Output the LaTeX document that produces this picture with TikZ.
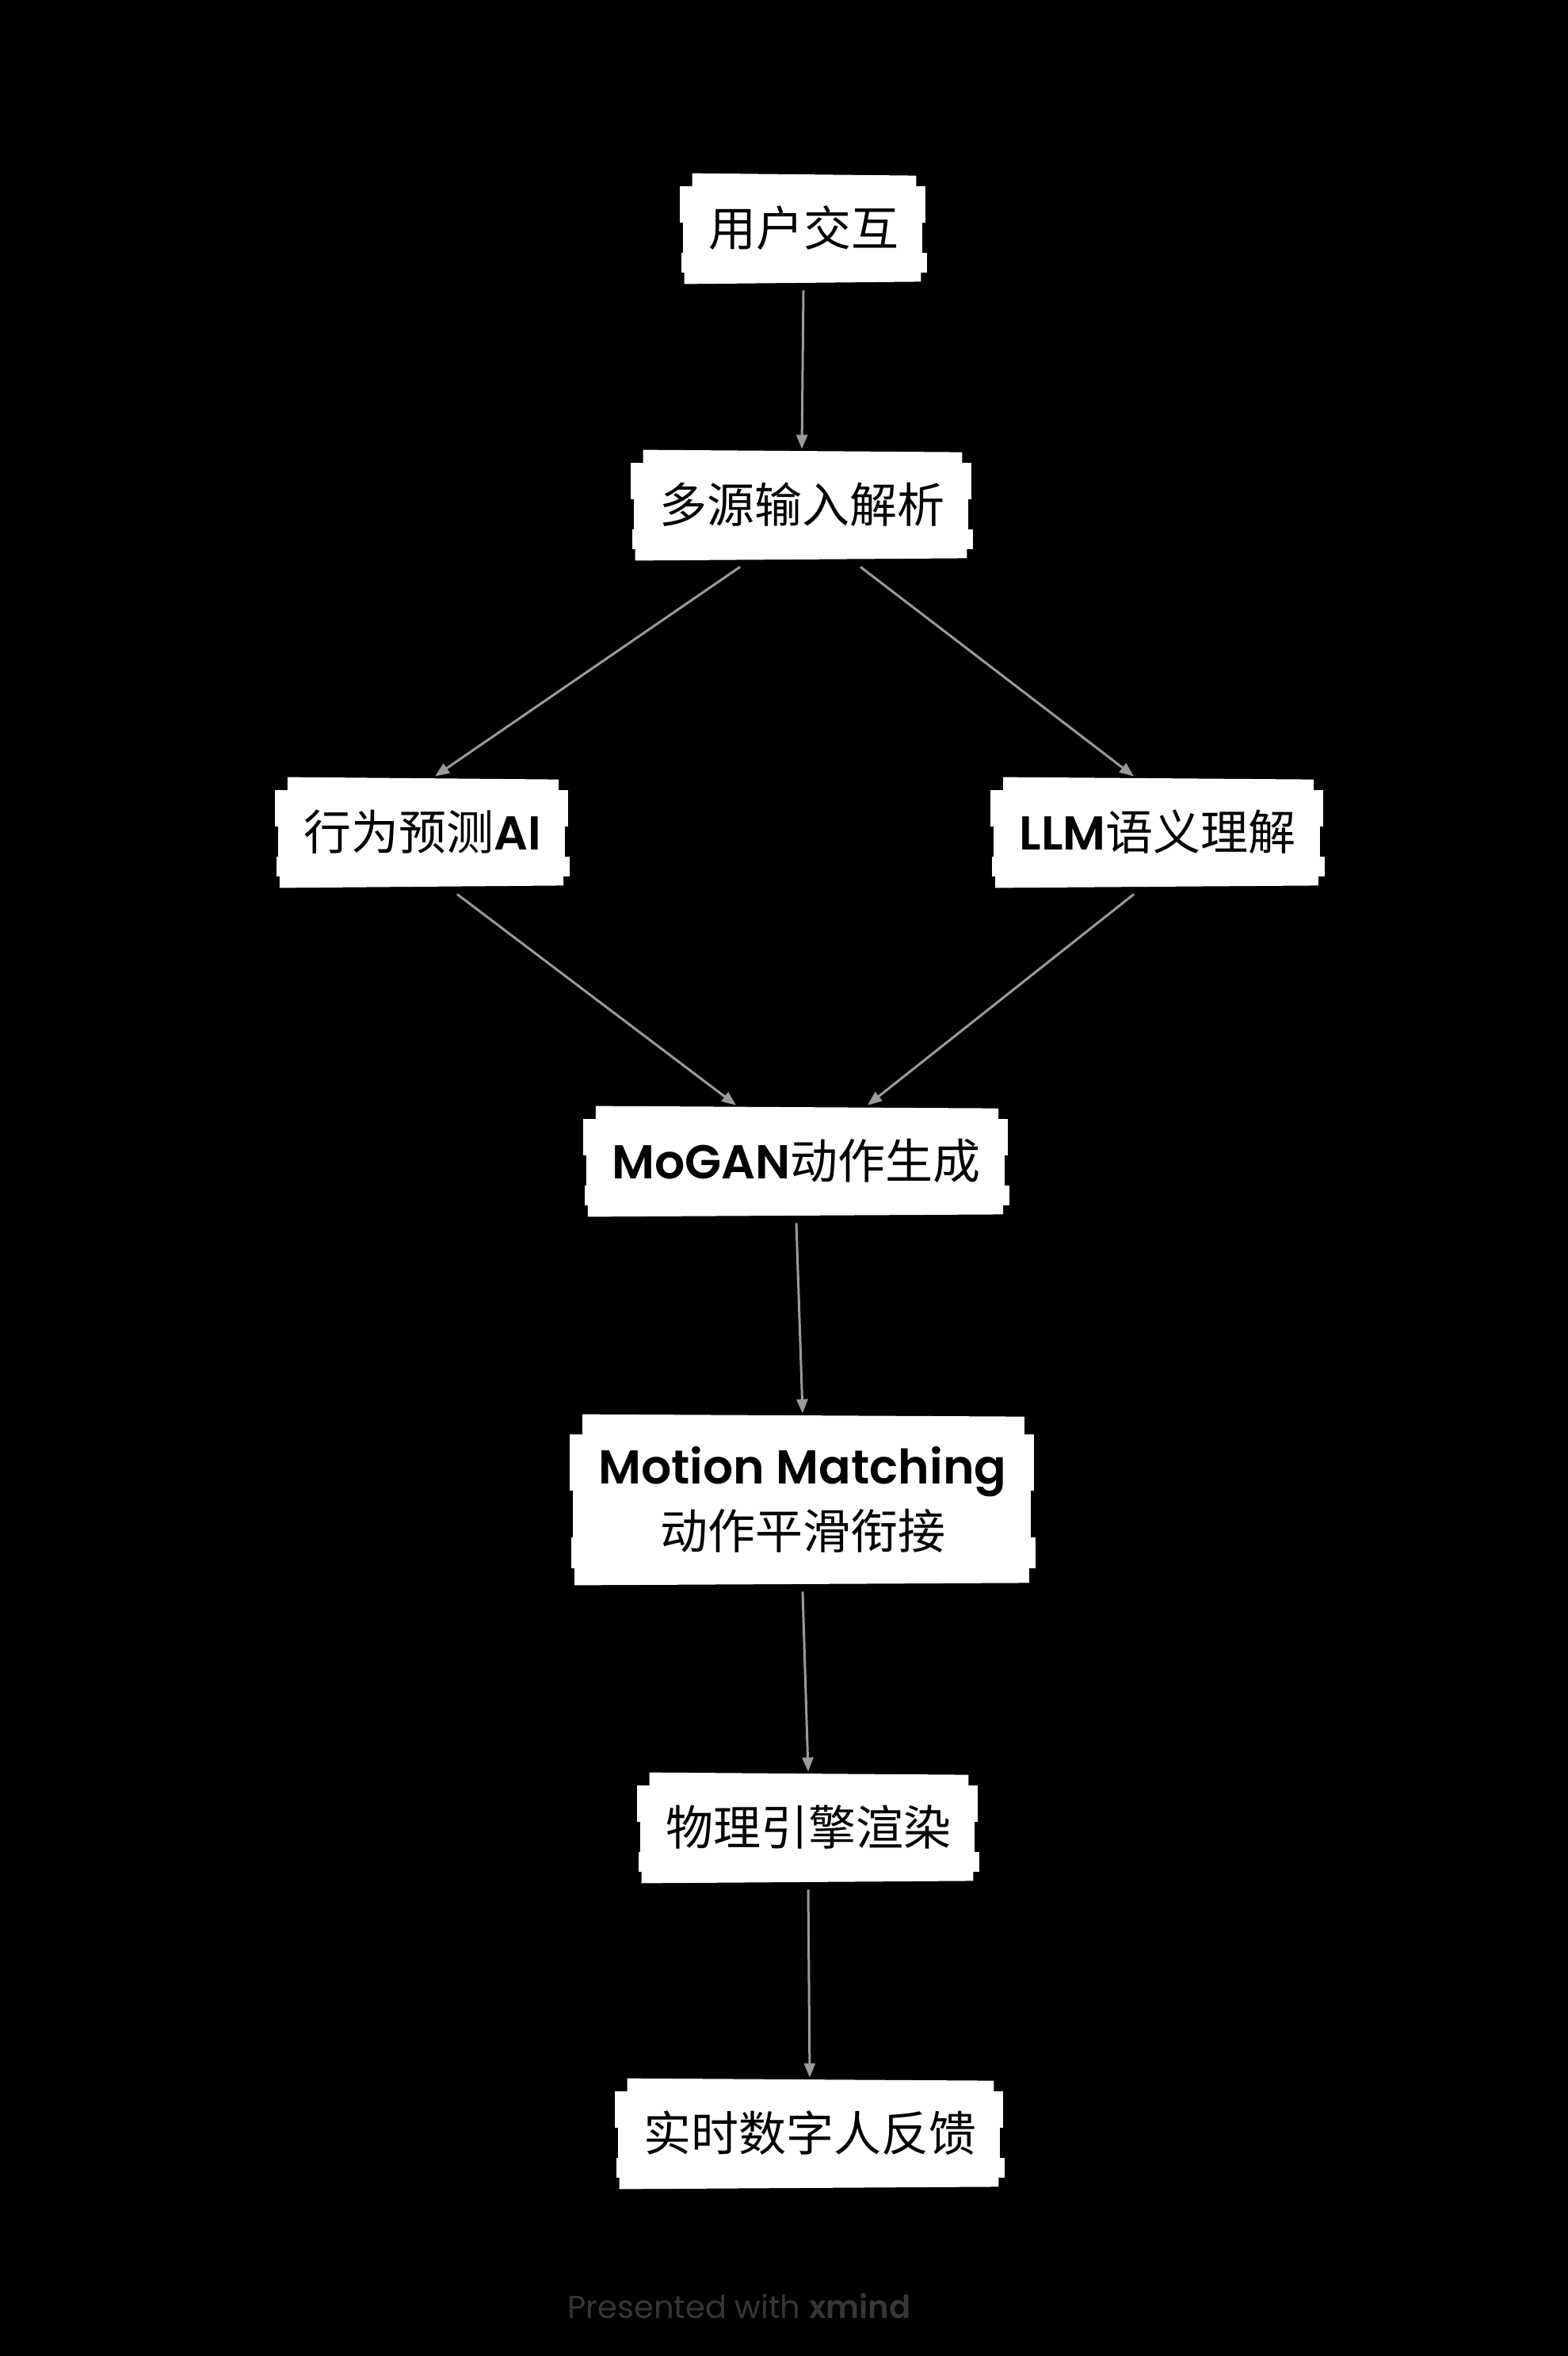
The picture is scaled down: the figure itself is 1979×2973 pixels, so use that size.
\documentclass[tikz,border=0pt]{standalone}
\usepackage{fontspec}
\setmainfont{Noto Sans CJK SC}
\newfontfamily\lat{Poppins}[BoldFont={Poppins SemiBold}]
\usetikzlibrary{arrows.meta, calc, positioning}
\pgfdeclarelayer{fondo}
\pgfdeclarelayer{cinta}
\pgfsetlayers{fondo,cinta,main}
\definecolor{gris}{HTML}{9A9A9A}
\definecolor{piegris}{HTML}{363636}
\tikzstyle{tarjeta} = [text=black, inner xsep=18pt, inner ysep=0pt, minimum height=70pt, align=center, font=\fontsize{30}{41}\selectfont]
\tikzstyle{flecha} = [draw=gris, line width=1.5pt, -{Triangle[length=9pt,width=7pt]}]
\tikzstyle{pie} = [text=piegris, font=\fontsize{20}{24}\selectfont\lat]
% tiras blancas como cinta pegada
\newcommand{\cinta}[1]{%
	\begin{pgfonlayer}{cinta}
		\fill[white] ($(#1.north west)+(8pt,-0.5pt)$) -- ($(#1.north east)+(-7pt,-2pt)$) -- ($(#1.north east)!0.22!(#1.south east)+(-7pt,0)$) -- ($(#1.north west)!0.22!(#1.south west)+(8pt,0)$) -- cycle;
		\fill[white] ($(#1.north west)!0.12!(#1.south west)$) rectangle ($(#1.north east)!0.45!(#1.south east)+(-1pt,0)$);
		\fill[white] ($(#1.north west)!0.43!(#1.south west)+(2pt,0)$) rectangle ($(#1.north east)!0.76!(#1.south east)+(-3pt,0)$);
		\fill[white] ($(#1.north west)!0.72!(#1.south west)+(1pt,0)$) rectangle ($(#1.north east)!0.9!(#1.south east)$);
		\fill[white] ($(#1.north west)!0.86!(#1.south west)+(3pt,0)$) -- ($(#1.north east)!0.86!(#1.south east)+(-4pt,0)$) -- ($(#1.south east)+(-4pt,1.5pt)$) -- ($(#1.south west)+(3pt,0)$) -- cycle;
	\end{pgfonlayer}}

\begin{document}
\begin{tikzpicture}[x=0.5pt, y=-0.5pt]
	\useasboundingbox (0,0) rectangle (1979,2973);
	\begin{pgfonlayer}{fondo}
		\fill[black] (0,0) rectangle (1979,2973);
	\end{pgfonlayer}

	\node[tarjeta] (usuario) at (1014,288) {用户交互};
	\node[tarjeta] (entrada) at (1012,637) {多源输入解析};
	\node[tarjeta] (prediccion) at (533,1050) {行为预测{\lat\bfseries AI}};
	\node[tarjeta] (llm) at (1461,1050) {{\lat\bfseries LLM}语义理解};
	\node[tarjeta] (mogan) at (1005,1465) {{\lat\bfseries MoGAN}动作生成};
	\node[tarjeta, minimum height=108pt] (matching) at (1013,1892) {{\lat\bfseries Motion Matching}\\动作平滑衔接};
	\node[tarjeta] (fisica) at (1020,2306) {物理引擎渲染};
	\node[tarjeta] (feedback) at (1022,2692) {实时数字人反馈};
	\foreach \n in {usuario, entrada, prediccion, llm, mogan, matching, fisica, feedback}
		\cinta{\n};

	\draw[flecha] ([yshift=-4pt]usuario.south) -- (entrada.north);
	\draw[flecha] ([xshift=-39pt,yshift=-4pt]entrada.south) -- ([xshift=8pt]prediccion.north);
	\draw[flecha] ([xshift=37pt,yshift=-4pt]entrada.south) -- ([xshift=-15pt]llm.north);
	\draw[flecha] ([xshift=22pt,yshift=-4pt]prediccion.south) -- ([xshift=-38pt]mogan.north);
	\draw[flecha] ([xshift=-15pt,yshift=-4pt]llm.south) -- ([xshift=45pt]mogan.north);
	\draw[flecha] ([yshift=-4pt]mogan.south) -- (matching.north);
	\draw[flecha] ([yshift=-4pt]matching.south) -- (fisica.north);
	\draw[flecha] ([yshift=-4pt]fisica.south) -- (feedback.north);

	\node[pie] (marca) at (933,2910) {Presented with {\bfseries xmind}};
\end{tikzpicture}
\end{document}
